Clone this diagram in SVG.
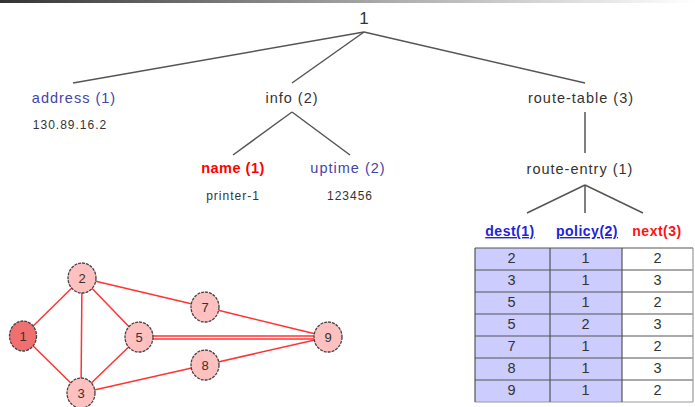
<svg xmlns="http://www.w3.org/2000/svg" width="695" height="407" viewBox="0 0 695 407">
  <defs>
    <linearGradient id="topbar" x1="0" y1="0" x2="1" y2="0">
      <stop offset="0" stop-color="#333333"/>
      <stop offset="0.55" stop-color="#aaaaaa"/>
      <stop offset="1" stop-color="#ffffff"/>
    </linearGradient>
  </defs>
  <style>
    text { font-family: "Liberation Sans", Arial, sans-serif; font-size: 14.5px; letter-spacing: 1px; text-anchor: middle; }
    .plain { fill: #333333; }
    .blue { fill: #4444aa; }
    .red { fill: #ff0000; font-weight: bold; letter-spacing: 0.5px; }
    .val { fill: #333333; font-size: 12px; letter-spacing: 1px; }
    .hdr { fill: #2222dd; font-weight: bold; text-decoration: underline; font-size: 14px; letter-spacing: 0.5px; }
    .hdrred { fill: #ff1111; font-weight: bold; font-size: 14px; letter-spacing: 0.5px; }
    .tree { stroke: #555555; stroke-width: 1.5; fill: none; }
    .edge { stroke: #ff3333; stroke-width: 1.5; fill: none; }
    .vtx { fill: #ffc0c0; stroke: #444444; stroke-width: 1.3; stroke-dasharray: 3 1; }
    .vtx.src { fill: #f07070; }
    .vlab { fill: #333333; font-size: 13px; letter-spacing: 0; }
    .cell { stroke: #555555; stroke-width: 1.2; }
    .lav { fill: #ccccff; }
    .wht { fill: #ffffff; }
    .num { fill: #333333; font-size: 12px; letter-spacing: 0; }
  </style>

  <rect x="0" y="0" width="695" height="3" fill="url(#topbar)"/>

  <!-- tree connectors -->
  <g id="tree-links">
    <line class="tree" x1="364" y1="32" x2="73" y2="83" stroke="#888"/>
    <line class="tree" x1="364" y1="32" x2="292" y2="83"/>
    <line class="tree" x1="364" y1="32" x2="585" y2="83" stroke="#888"/>
    <line class="tree" x1="292" y1="112" x2="233" y2="155"/>
    <line class="tree" x1="292" y1="112" x2="350" y2="155"/>
    <line class="tree" x1="585" y1="112" x2="585" y2="153"/>
    <line class="tree" x1="585" y1="185" x2="527" y2="213"/>
    <line class="tree" x1="585" y1="185" x2="585" y2="213"/>
    <line class="tree" x1="585" y1="185" x2="643" y2="213"/>
  </g>

  <!-- tree nodes -->
  <g id="root"><text class="plain" x="364" y="24" style="font-size:17px;letter-spacing:0">1</text></g>
  <g id="address">
    <text class="blue" x="74" y="103">address (1)</text>
    <text class="val" x="70" y="129">130.89.16.2</text>
  </g>
  <g id="info"><text class="plain" x="292" y="103">info (2)</text></g>
  <g id="route-table"><text class="plain" x="581" y="103">route-table (3)</text></g>
  <g id="name">
    <text class="red" x="233" y="173">name (1)</text>
    <text class="val" x="233" y="200">printer-1</text>
  </g>
  <g id="uptime">
    <text class="blue" x="348" y="173">uptime (2)</text>
    <text class="val" x="350" y="200">123456</text>
  </g>
  <g id="route-entry"><text class="plain" x="580" y="174">route-entry (1)</text></g>
  <g id="dest"><text class="hdr" x="510" y="236">dest(1)</text></g>
  <g id="policy"><text class="hdr" x="587" y="236">policy(2)</text></g>
  <g id="next"><text class="hdrred" x="657" y="236">next(3)</text></g>

  <!-- routing table -->
  <g id="route-table-rows">
    <rect class="lav" x="475" y="248" width="147" height="154"/>
    <rect class="wht" x="622" y="248" width="71" height="154"/>
    <g class="cell">
      <line x1="475" y1="248" x2="693" y2="248"/>
      <line x1="475" y1="270" x2="693" y2="270"/>
      <line x1="475" y1="292" x2="693" y2="292"/>
      <line x1="475" y1="314" x2="693" y2="314"/>
      <line x1="475" y1="336" x2="693" y2="336"/>
      <line x1="475" y1="358" x2="693" y2="358"/>
      <line x1="475" y1="380" x2="693" y2="380"/>
      <line x1="475" y1="402" x2="693" y2="402" stroke="#999"/>
      <line x1="475" y1="248" x2="475" y2="402"/>
      <line x1="550" y1="248" x2="550" y2="402"/>
      <line x1="622" y1="248" x2="622" y2="402"/>
      <line x1="693" y1="248" x2="693" y2="402" stroke="#999"/>
    </g>
    <g class="num">
      <text x="512" y="263">2</text><text x="586" y="263">1</text><text x="658" y="263">2</text>
      <text x="512" y="285">3</text><text x="586" y="285">1</text><text x="658" y="285">3</text>
      <text x="512" y="307">5</text><text x="586" y="307">1</text><text x="658" y="307">2</text>
      <text x="512" y="329">5</text><text x="586" y="329">2</text><text x="658" y="329">3</text>
      <text x="512" y="351">7</text><text x="586" y="351">1</text><text x="658" y="351">2</text>
      <text x="512" y="373">8</text><text x="586" y="373">1</text><text x="658" y="373">3</text>
      <text x="512" y="395">9</text><text x="586" y="395">1</text><text x="658" y="395">2</text>
    </g>
  </g>

  <!-- network graph edges -->
  <g id="graph-edges">
    <line class="edge" x1="23" y1="336" x2="82" y2="278"/>
    <line class="edge" x1="23" y1="336" x2="81" y2="393"/>
    <line class="edge" x1="82" y1="278" x2="81" y2="393"/>
    <line class="edge" x1="82" y1="278" x2="139" y2="337"/>
    <line class="edge" x1="81" y1="393" x2="139" y2="337"/>
    <line class="edge" x1="82" y1="278" x2="205" y2="307"/>
    <line class="edge" x1="205" y1="307" x2="328" y2="337"/>
    <line class="edge" x1="139" y1="336" x2="328" y2="336"/>
    <line class="edge" x1="139" y1="339" x2="328" y2="339"/>
    <line class="edge" x1="81" y1="393" x2="205" y2="365"/>
    <line class="edge" x1="205" y1="365" x2="328" y2="337"/>
  </g>

  <!-- network graph vertices -->
  <g id="v1"><ellipse class="vtx src" cx="23" cy="336" rx="13.5" ry="15"/><text class="vlab" x="23" y="341">1</text></g>
  <g id="v2"><ellipse class="vtx" cx="82" cy="278" rx="14" ry="15"/><text class="vlab" x="82" y="283">2</text></g>
  <g id="v3"><ellipse class="vtx" cx="81" cy="393" rx="14" ry="15"/><text class="vlab" x="81" y="398">3</text></g>
  <g id="v5"><ellipse class="vtx" cx="139" cy="337" rx="14" ry="15"/><text class="vlab" x="139" y="342">5</text></g>
  <g id="v7"><ellipse class="vtx" cx="205" cy="307" rx="14" ry="15"/><text class="vlab" x="205" y="312">7</text></g>
  <g id="v8"><ellipse class="vtx" cx="205" cy="365" rx="14" ry="15"/><text class="vlab" x="205" y="370">8</text></g>
  <g id="v9"><ellipse class="vtx" cx="328" cy="337" rx="14" ry="15"/><text class="vlab" x="328" y="342">9</text></g>
</svg>
